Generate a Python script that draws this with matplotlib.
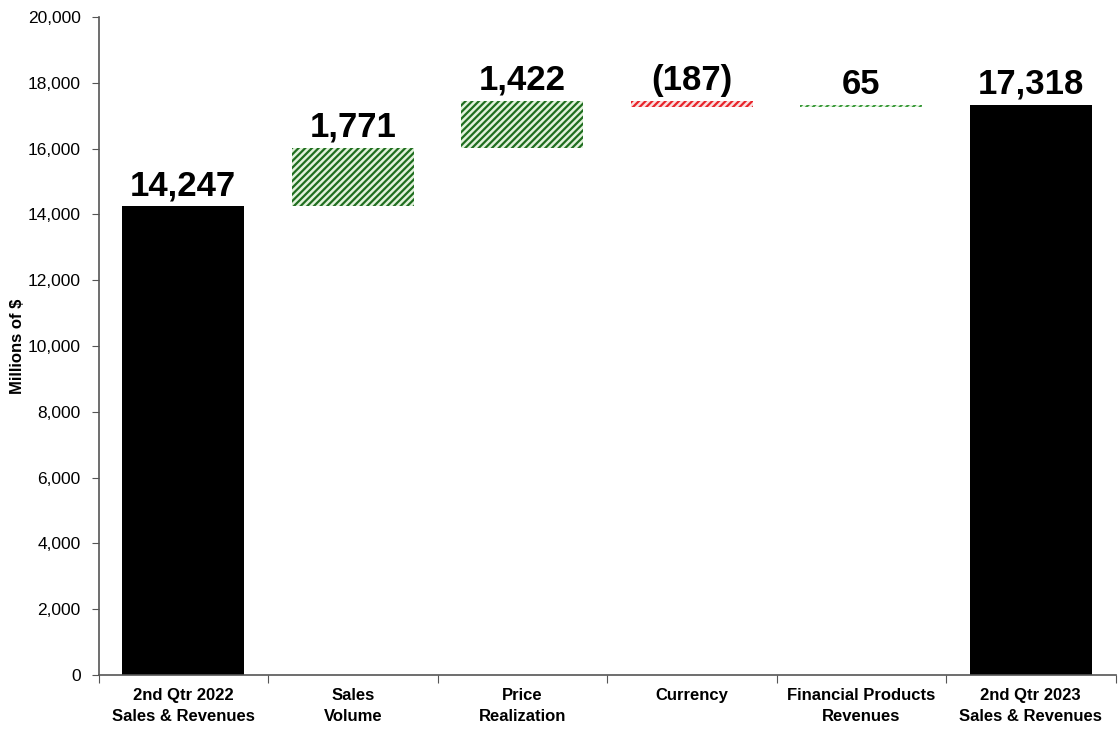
import matplotlib.pyplot as plt
from matplotlib.ticker import FuncFormatter
import matplotlib as mpl

categories = ['2nd Qtr 2022\nSales & Revenues', 'Sales\nVolume', 'Price\nRealization',
              'Currency', 'Financial Products\nRevenues', '2nd Qtr 2023\nSales & Revenues']
changes = [14247, 1771, 1422, -187, 65, 17318]
labels = ['14,247', '1,771', '1,422', '(187)', '65', '17,318']

mpl.rcParams['hatch.linewidth'] = 1.6
narrow = ['Liberation Sans Narrow', 'Liberation Sans', 'DejaVu Sans']

fig = plt.figure(figsize=(11.2, 7.33), dpi=100)
ax = fig.add_axes([0.088, 0.079, 0.908, 0.898])

# waterfall bottoms / heights
bottoms, heights = [], []
running = 0
for i, v in enumerate(changes):
    if i == 0 or i == len(changes) - 1:
        bottoms.append(0)
        heights.append(v)
        running = v
    else:
        bottoms.append(min(running, running + v))
        heights.append(abs(v))
        running += v

x = range(len(categories))
for i in x:
    if i == 0 or i == len(categories) - 1:
        ax.bar(i, heights[i], bottom=bottoms[i], width=0.72, color='black')
    elif changes[i] < 0:
        ax.bar(i, heights[i], bottom=bottoms[i], width=0.72, facecolor='#fbe0e0',
               edgecolor='#e8242a', hatch='/////', linewidth=0)
    elif i == 4:
        ax.bar(i, heights[i], bottom=bottoms[i], width=0.72, facecolor='#e6f4e2',
               edgecolor='#3a9a3a', hatch='/////', linewidth=0)
    else:
        ax.bar(i, heights[i], bottom=bottoms[i], width=0.72, facecolor='#e2f2dc',
               edgecolor='#1f6e1f', hatch='/////', linewidth=0)
    ax.annotate(labels[i], (i, bottoms[i] + heights[i]), xytext=(0, 3),
                textcoords='offset points', ha='center', va='bottom',
                fontsize=25, fontweight='bold', family=narrow)

ax.set_xlim(-0.5, len(categories) - 0.5)
ax.set_ylim(0, 20000)
ax.set_yticks(range(0, 20001, 2000))
ax.yaxis.set_major_formatter(FuncFormatter(lambda v, p: f'{int(v):,}'))
ax.set_xticks([i - 0.5 for i in range(len(categories) + 1)], minor=False)
ax.set_xticklabels([])
ax.set_xticks(list(x), minor=True)
ax.set_xticklabels(categories, minor=True, fontsize=12, fontweight='bold', family=narrow,
                   linespacing=1.5)
ax.tick_params(axis='x', which='minor', length=0, pad=9)
ax.tick_params(axis='x', which='major', length=6, direction='out', color='#555555')
ax.tick_params(axis='y', length=5, color='#555555', labelsize=12.5, pad=8)
for lab in ax.get_yticklabels():
    lab.set_family(['Liberation Sans', 'DejaVu Sans'])

for s in ['top', 'right']:
    ax.spines[s].set_visible(False)
for s in ['left', 'bottom']:
    ax.spines[s].set_color('#555555')
    ax.spines[s].set_linewidth(1.2)

ax.set_ylabel('Millions of $', fontsize=12, fontweight='bold', family=narrow, labelpad=2)

fig.savefig('out.png', dpi=100)
